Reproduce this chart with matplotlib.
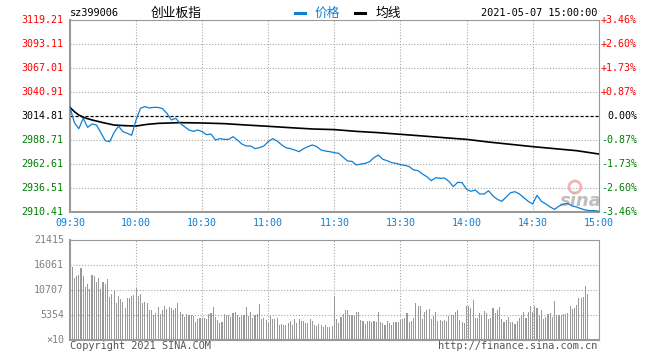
import matplotlib
matplotlib.use("Agg")
import matplotlib.pyplot as plt
from matplotlib.lines import Line2D
from matplotlib.patches import Ellipse

W, H = 660, 360
MONO = "DejaVu Sans Mono"
CJK = ["Noto Sans CJK SC", "DejaVu Sans"]

prev_close = 3014.81
price_ticks = [3119.21, 3093.11, 3067.01, 3040.91, 3014.81, 2988.71, 2962.61, 2936.51, 2910.41]
vol_ticks = [21415, 16061, 10707, 5354]
time_pos = [0, 30, 60, 90, 120, 150, 180, 210, 240]
time_labels = ["09:30", "10:00", "10:30", "11:00", "11:30", "13:30", "14:00", "14:30", "15:00"]

# price, every 2 minutes (index 0 = 09:30, 120 = 11:30/13:00, 240 = 15:00)
price_minutes = list(range(0, 241, 2))
price = [
    3024.2, 3007.6, 3001.0, 3012.3, 3002.5, 3006.1, 3005.0, 2996.7, 2988.0, 2986.9,
    2996.7, 3003.9, 2997.8, 2996.0, 2993.8, 3010.5, 3023.2, 3025.0, 3023.5, 3024.2,
    3024.2, 3022.8, 3017.7, 3010.5, 3012.3, 3006.8, 3003.2, 2999.6, 2998.1, 2999.6,
    2997.8, 2994.5, 2995.2, 2988.7, 2990.2, 2989.4, 2989.4, 2992.3, 2988.7, 2984.4,
    2982.2, 2982.2, 2979.3, 2980.4, 2982.2, 2986.9, 2990.2, 2987.6, 2983.6, 2980.4,
    2979.3, 2977.8, 2976.0, 2979.3, 2981.5, 2983.3, 2981.5, 2977.8, 2976.7, 2976.0,
    2974.9,
    2974.2, 2969.9, 2965.9, 2965.5, 2961.5, 2962.6, 2963.3, 2965.1, 2969.5, 2972.4,
    2967.7, 2966.2, 2964.1, 2963.3, 2961.9, 2961.2, 2959.7, 2956.1, 2955.4, 2951.7,
    2948.8, 2944.5, 2947.7, 2947.0, 2947.4, 2943.7, 2938.0, 2942.7, 2942.3, 2935.1,
    2932.9, 2934.3, 2930.0, 2930.0, 2933.6, 2927.8, 2924.2, 2922.0, 2926.7, 2931.4,
    2932.5, 2930.0, 2926.0, 2922.0, 2919.1, 2928.5, 2922.0, 2919.1, 2915.8, 2913.3,
    2916.9, 2919.1, 2919.8, 2916.9, 2915.8, 2914.0, 2912.6, 2911.9, 2911.9, 2911.2,
]

avg_minutes = [0, 2, 4, 6, 8, 10, 15, 20, 25, 30, 35, 40, 50, 60, 70, 80, 90, 100, 110,
               120, 130, 140, 150, 160, 170, 180, 190, 200, 210, 220, 230, 240]
avg_price = [3024.2, 3019.5, 3015.9, 3013.4, 3011.9, 3010.5, 3007.6, 3005.0, 3004.3, 3003.9,
             3005.7, 3006.8, 3007.6, 3007.2, 3006.5, 3005.0, 3003.6, 3002.1, 3000.7,
             3000.0, 2998.1, 2996.7, 2994.9, 2993.1, 2991.2, 2989.4, 2986.5, 2984.0,
             2981.5, 2979.3, 2977.1, 2973.5]

# volume per minute (x10), 09:30 .. 14:57
volume = [
    21415, 15640, 13280, 13640, 13850, 15420, 13700, 11350, 12000, 10920,
    13920, 13640, 12420, 13280, 10920, 12420, 12000, 13070, 9210, 9850,
    10710, 7930, 9430, 8780, 8140, 6850, 9000, 9000, 9430, 9640,
    11140, 9430, 9850, 7930, 8140, 7930, 6430, 6430, 5360, 5780,
    7070, 5570, 6430, 7280, 6640, 7070, 6850, 6430, 6850, 7930,
    6000, 5570, 4930, 5570, 5360, 5360, 5140, 3860, 4500, 4710,
    4710, 4710, 4500, 5570, 5780, 7070, 4930, 4280, 3640, 3860,
    5570, 5360, 5360, 4930, 5780, 6000, 5360, 4930, 5140, 5360,
    7070, 5140, 6000, 4710, 5360, 5570, 7710, 4500, 4710, 4280,
    3640, 5140, 4500, 4500, 4710, 3210, 3430, 3210, 3210, 3640,
    4070, 3210, 4500, 3640, 4500, 4070, 4070, 3640, 3640, 4500,
    4070, 3210, 3000, 3430, 3210, 2780, 3210, 2780, 2780, 3000,
    9210, 4500, 3640, 4930, 5570, 6430, 6430, 5360, 5360, 5140,
    6000, 6000, 4280, 4070, 3430, 4070, 4070, 3860, 4070, 3860,
    6000, 3860, 3640, 3210, 4070, 3640, 3210, 3860, 3860, 3860,
    4280, 4500, 4710, 5780, 3860, 4070, 4710, 7930, 7280, 7280,
    4500, 6000, 6430, 6640, 4500, 5140, 6000, 4070, 4280, 4070,
    4280, 4070, 5140, 5360, 5360, 6000, 6430, 4280, 3860, 3640,
    7280, 7280, 6850, 8570, 4710, 4710, 5780, 5360, 6210, 5780,
    4500, 4710, 6850, 5780, 6430, 7070, 4500, 3860, 4280, 4930,
    3860, 3860, 3430, 4070, 4710, 5360, 6000, 4710, 6000, 7280,
    6000, 7280, 6850, 5360, 6430, 4500, 4930, 5570, 5780, 4930,
    8350, 5360, 5360, 5360, 5570, 5570, 5780, 7280, 6640, 6850,
    7500, 9000, 9000, 9210, 11570, 9850, 0, 300,
]

BLUE = "#0e7fd2"
GRID = "#a8a8a8"
FRAME = "#999999"


def fx(px):
    return px / W


def fy(py):
    return 1 - py / H


def style_frame(ax):
    for side, sp in ax.spines.items():
        sp.set_color(FRAME)
        sp.set_linewidth(1.5 if side in ("left", "bottom") else 0.8)
    ax.set_xticks([])
    ax.set_yticks([])


fig = plt.figure(figsize=(W / 100, H / 100), dpi=100)

# ---- price panel
ax = fig.add_axes([fx(70), fy(212), (598.7 - 70) / W, 192 / H])
ax.set_xlim(0, 240)
ax.set_ylim(price_ticks[-1], price_ticks[0])
style_frame(ax)

for t in price_ticks[1:-1]:
    if t == prev_close:
        ax.axhline(t, color="black", lw=0.9, ls=(0, (2.5, 1.5)), zorder=1)
    else:
        ax.axhline(t, color=GRID, lw=0.8, ls=(0, (1, 1.6)), zorder=1)
for m in time_pos[1:-1]:
    ax.axvline(m, color=GRID, lw=0.8, ls=(0, (1, 1.6)), zorder=1)

# watermark sits under the lines (axes box is 528.7 x 192 px)
ax.add_patch(Ellipse((0.955, 0.13), 12 / 528.7, 12 / 192, transform=ax.transAxes,
                     facecolor="none", edgecolor="#f0a0a0", lw=2.0, alpha=0.8, zorder=2))
ax.text(0.967, 0.057, "sina", transform=ax.transAxes, ha="center", va="center",
        fontsize=13, family="DejaVu Sans", style="italic", weight="bold",
        color="#b8b8b8", alpha=0.9, zorder=2)

ax.plot(avg_minutes, avg_price, color="black", lw=1.2, zorder=3)
ax.plot(price_minutes, price, color=BLUE, lw=0.9, zorder=4)

ytr = ax.get_yaxis_transform()
for t in price_ticks:
    pct = (t / prev_close - 1) * 100
    if t > prev_close:
        c = "#ff0000"
        ptxt = "+%.2f%%" % pct
    elif t < prev_close:
        c = "#008000"
        ptxt = "%.2f%%" % pct
    else:
        c = "black"
        ptxt = "0.00%"
    ax.text(-0.0127, t, "%.2f" % t, transform=ytr, ha="right", va="center",
            fontsize=7.2, family=MONO, color=c)
    ax.text(1.0724, t, ptxt, transform=ytr, ha="right", va="center",
            fontsize=7.2, family=MONO, color=c)

xtr = ax.get_xaxis_transform()
for m, lab in zip(time_pos, time_labels):
    ax.text(m, -0.059, lab, transform=xtr, ha="center", va="center",
            fontsize=7.2, family=MONO, color=BLUE)

# ---- volume panel
vax = fig.add_axes([fx(70), fy(340), (598.7 - 70) / W, 100 / H])
vax.set_xlim(0, 240)
vax.set_ylim(0, vol_ticks[0])
style_frame(vax)
for t in vol_ticks[1:]:
    vax.axhline(t, color=GRID, lw=0.8, ls=(0, (1, 1.6)), zorder=1)
for m in time_pos[1:-1]:
    vax.axvline(m, color=GRID, lw=0.8, ls=(0, (1, 1.6)), zorder=1)
vax.bar(range(len(volume)), volume, width=0.5, color="#999999", lw=0,
        align="center", zorder=2)

vtr = vax.get_yaxis_transform()
for t in vol_ticks:
    vax.text(-0.0113, t, str(t), transform=vtr, ha="right", va="center",
             fontsize=7.2, family=MONO, color="#808080")
vax.text(-0.0113, 0, "\u00d710", transform=vtr, ha="right", va="center",
         fontsize=7.2, family=MONO, color="#808080")

# ---- header
fig.text(fx(70), fy(13), "sz399006", ha="left", va="center", fontsize=7.4,
         family=MONO, color="black")
fig.text(fx(151), fy(13), "创业板指", ha="left", va="center", fontsize=9.2,
         family=CJK, color="black")
fig.add_artist(Line2D([fx(295), fx(305)], [fy(12.5), fy(12.5)], color=BLUE, lw=2.2))
fig.text(fx(315), fy(13), "价格", ha="left", va="center", fontsize=9.2,
         family=CJK, color=BLUE)
fig.add_artist(Line2D([fx(355), fx(365)], [fy(12.5), fy(12.5)], color="black", lw=2.2))
fig.text(fx(375.5), fy(13), "均线", ha="left", va="center", fontsize=9.2,
         family=CJK, color="black")
fig.text(fx(597), fy(13), "2021-05-07 15:00:00", ha="right", va="center",
         fontsize=7.4, family=MONO, color="black")

# ---- footer
fig.text(fx(70), fy(346), "Copyright 2021 SINA.COM", ha="left", va="center",
         fontsize=7.4, family=MONO, color="#555555")
fig.text(fx(597.5), fy(346), "http://finance.sina.com.cn", ha="right", va="center",
         fontsize=7.4, family=MONO, color="#555555")

fig.savefig("out.png", dpi=100)
